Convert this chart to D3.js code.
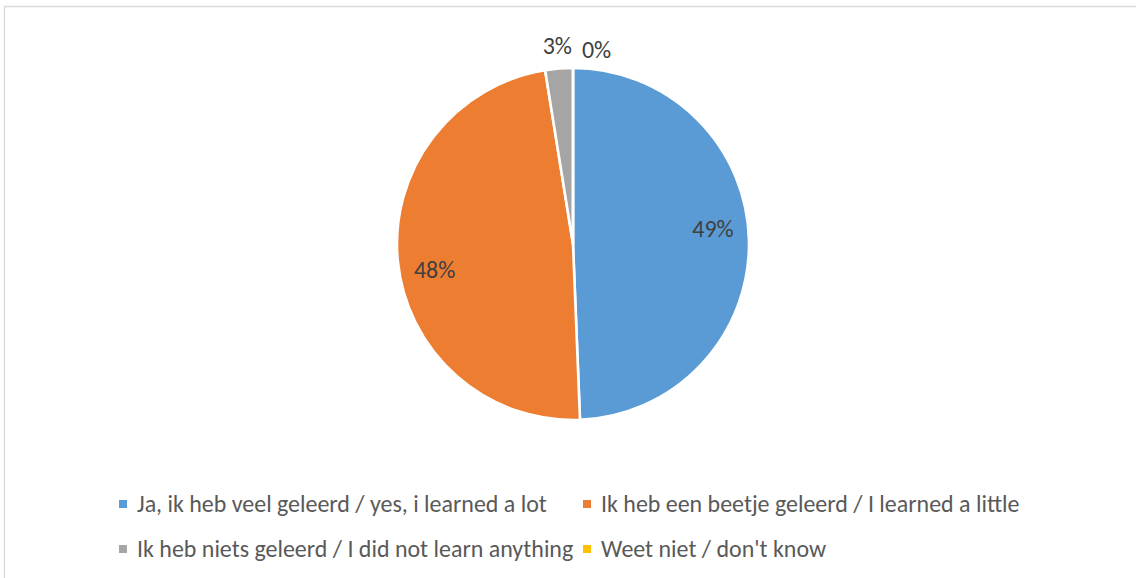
<!DOCTYPE html>
<html>
<head>
<meta charset="utf-8">
<script src="https://cdn.jsdelivr.net/npm/d3@7"></script>
<style>
  html, body { margin: 0; padding: 0; background: #ffffff; }
  svg { display: block; }
  text { font-family: Carlito, Calibri, Lato, "Open Sans", sans-serif; }
</style>
</head>
<body>
<svg id="chart" width="1136" height="578"></svg>
<script>
// ---- data ----
const categories = [
  "Ja, ik heb veel geleerd / yes, i learned a lot",
  "Ik heb een beetje geleerd / I learned a little",
  "Ik heb niets geleerd / I did not learn anything",
  "Weet niet / don't know"
];
const counts = [39, 38, 2, 0];
const colors = ["#5B9BD5", "#ED7D31", "#A5A5A5", "#FFC000"];

// ---- layout ----
const W = 1136, H = 578;
const cx = 573, cy = 244, R = 176;
const svg = d3.select("#chart");

// chart area border (top + left visible)
svg.append("path")
  .attr("d", `M4.5,${H} L4.5,6.5 L${W},6.5`)
  .attr("fill", "none")
  .attr("stroke", "#d9d9d9")
  .attr("stroke-width", 1.3);

// font size fitted so legend text width matches the reference
const probe = svg.append("text").attr("font-size", 24).text(categories[0]);
const probeW = probe.node().getComputedTextLength();
probe.remove();
const fs = 24 * 410 / probeW;

const total = d3.sum(counts);
const pie = d3.pie().sort(null).value(d => d).startAngle(0).endAngle(2 * Math.PI);
const arcs = pie(counts);
const arc = d3.arc().innerRadius(0).outerRadius(R);

const g = svg.append("g").attr("transform", `translate(${cx},${cy})`);
g.selectAll("path.slice")
  .data(arcs)
  .join("path")
  .attr("class", "slice")
  .attr("d", arc)
  .attr("fill", (d, i) => colors[i])
  .attr("stroke", "#ffffff")
  .attr("stroke-width", 2.6)
  .attr("stroke-linejoin", "round");

// data labels
const fmt = v => Math.round(v / total * 100) + "%";
const labels = [];
arcs.forEach((d, i) => {
  const frac = d.value / total;
  const mid = (d.startAngle + d.endAngle) / 2;
  let a, r;
  if (frac > 0.1) { a = mid - 5 * Math.PI / 180; r = 0.8 * R; }
  else { a = mid; r = R + 22; }
  labels.push({ i, x: r * Math.sin(a), y: -r * Math.cos(a), inside: frac > 0.1, text: fmt(d.value) });
});
const lt = g.selectAll("text.lbl")
  .data(labels)
  .join("text")
  .attr("class", "lbl")
  .attr("text-anchor", "middle")
  .attr("font-size", fs)
  .attr("fill", "#404040")
  .text(d => d.text);
// simple collision avoidance for outside labels (shift right)
const widths = lt.nodes().map(n => n.getComputedTextLength());
for (let k = 1; k < labels.length; k++) {
  const p = labels[k - 1], c = labels[k];
  if (p.inside || c.inside) continue;
  const minDx = (widths[k - 1] + widths[k]) / 2 + 10;
  if (c.x - p.x < minDx) { c.x = p.x + minDx; c.y = p.y + 4; }
}
lt.attr("x", d => d.x).attr("y", d => d.y + fs * 0.32);

// legend
const legX = [119, 583];
const legY = [504, 549];
const leg = svg.append("g");
categories.forEach((c, i) => {
  const col = i % 2, row = Math.floor(i / 2);
  leg.append("rect")
    .attr("x", legX[col]).attr("y", legY[row] - 4)
    .attr("width", 8).attr("height", 8)
    .attr("fill", colors[i]);
  leg.append("text")
    .attr("x", legX[col] + 18)
    .attr("y", legY[row] + fs * 0.32)
    .attr("font-size", fs)
    .attr("fill", "#595959")
    .text(c);
});
</script>
</body>
</html>
